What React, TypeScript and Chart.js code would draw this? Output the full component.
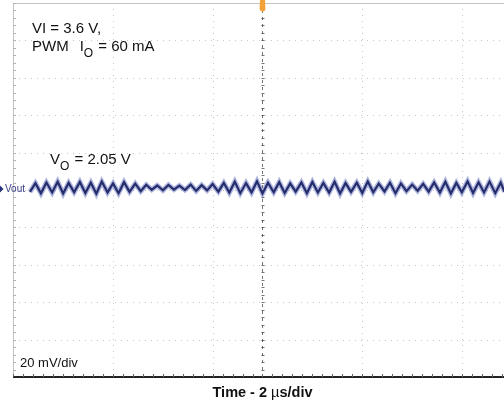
import React, { useEffect, useRef } from "react";
import { Chart, registerables } from "chart.js";

Chart.register(...registerables);

// time in µs (2 µs/div), voltage deviation in mV (20 mV/div)
const timeUs: number[] = [
  0.68, 0.90, 1.12, 1.34, 1.57, 1.79, 2.01, 2.23, 2.45, 2.68,
  2.90, 3.12, 3.34, 3.56, 3.79, 4.01, 4.23, 4.45, 4.67, 4.90,
  5.12, 5.34, 5.56, 5.78, 6.01, 6.23, 6.45, 6.67, 6.89, 7.12,
  7.34, 7.56, 7.78, 8.00, 8.23, 8.45, 8.67, 8.89, 9.11, 9.34,
  9.56, 9.78, 10.00, 10.22, 10.45, 10.67, 10.89, 11.11, 11.33, 11.56,
  11.78, 12.00, 12.22, 12.44, 12.67, 12.89, 13.11, 13.33, 13.55, 13.78,
  14.00, 14.22, 14.44, 14.66, 14.89, 15.11, 15.33, 15.55, 15.77, 16.00,
  16.22, 16.44, 16.66, 16.88, 17.11, 17.33, 17.55, 17.77, 17.99, 18.22,
  18.44, 18.66, 18.88, 19.10, 19.33, 19.55, 19.70,
];

const voutMv: number[] = [
  -1.0, 3.6, -1.8, 4.0, -1.3, 4.4, -1.9, 3.8, -1.2, 4.3,
  -1.6, 3.9, -2.0, 4.5, -1.3, 3.5, -1.7, 4.2, -1.0, 3.4,
  -0.6, 2.8, 0.1, 2.4, -0.2, 2.7, 0.2, 2.3, 0.0, 2.9,
  -0.5, 2.6, -0.2, 3.2, -0.9, 3.8, -1.4, 4.4, -1.7, 3.7,
  -1.3, 4.6, -1.9, 3.9, -1.2, 4.2, -1.6, 3.5, -0.9, 4.0,
  -1.7, 4.3, -1.3, 3.8, -1.4, 4.4, -1.9, 3.7, -1.0, 3.9,
  -1.6, 4.5, -1.2, 3.4, -0.8, 3.9, -1.7, 3.5, -0.6, 2.9,
  -0.4, 3.3, -0.9, 4.0, -1.4, 4.4, -1.9, 3.8, -1.2, 4.6,
  -1.6, 4.1, -1.3, 4.5, -1.7, 3.9, -1.0,
];

const xMin = 0;
const xMax = 19.68;
const yMin = -100;
const yMax = 100;
const xGridUs: number[] = [4, 8, 14, 18];
const xCenterUs = 10;
const yGridMv: number[] = [-80, -60, -40, -20, 0, 20, 40, 60, 80];

const FONT = "'Liberation Sans', Arial, sans-serif";

const scopePlugin = {
  id: "scope",
  beforeDatasetsDraw(chart: any) {
    const { ctx, chartArea: a, scales } = chart;
    const xs = scales.x;
    const ys = scales.y;
    ctx.save();
    // dotted grid
    ctx.strokeStyle = "rgba(130,130,130,0.45)";
    ctx.lineWidth = 1;
    ctx.setLineDash([1, 5]);
    for (const v of xGridUs) {
      const px = Math.round(xs.getPixelForValue(v)) + 0.5;
      ctx.beginPath();
      ctx.moveTo(px, a.top);
      ctx.lineTo(px, a.bottom);
      ctx.stroke();
    }
    for (const v of yGridMv) {
      const py = Math.round(ys.getPixelForValue(v)) + 0.5;
      ctx.beginPath();
      ctx.moveTo(a.left, py);
      ctx.lineTo(a.right, py);
      ctx.stroke();
    }
    ctx.setLineDash([]);
    // top and left borders
    ctx.strokeStyle = "#c4c4c4";
    ctx.beginPath();
    ctx.moveTo(a.left, a.top + 0.5);
    ctx.lineTo(a.right, a.top + 0.5);
    ctx.moveTo(a.left + 0.5, a.top);
    ctx.lineTo(a.left + 0.5, a.bottom);
    ctx.stroke();
    // left minor ticks
    ctx.strokeStyle = "#b0b0b0";
    const divPx = (ys.getPixelForValue(yMin) - ys.getPixelForValue(yMin + 20));
    for (let y = a.top; y <= a.bottom; y += divPx / 5) {
      const py = Math.round(y) + 0.5;
      ctx.beginPath();
      ctx.moveTo(a.left, py);
      ctx.lineTo(a.left + 3, py);
      ctx.stroke();
    }
    // center vertical axis with ticks
    const cx = Math.round(xs.getPixelForValue(xCenterUs)) + 0.5;
    ctx.strokeStyle = "rgba(70,70,70,0.75)";
    ctx.setLineDash([3, 4]);
    ctx.beginPath();
    ctx.moveTo(cx, a.top);
    ctx.lineTo(cx, a.bottom);
    ctx.stroke();
    ctx.setLineDash([]);
    ctx.strokeStyle = "rgba(60,60,60,0.7)";
    for (let y = a.top; y <= a.bottom; y += divPx / 5) {
      const py = Math.round(y) + 0.5;
      ctx.beginPath();
      ctx.moveTo(cx - 1, py);
      ctx.lineTo(cx + 2, py);
      ctx.stroke();
    }
    // bottom border
    ctx.strokeStyle = "#222";
    ctx.lineWidth = 2;
    ctx.beginPath();
    ctx.moveTo(a.left, a.bottom);
    ctx.lineTo(a.right, a.bottom);
    ctx.stroke();
    ctx.lineWidth = 1;
    const xDivPx = xs.getPixelForValue(2) - xs.getPixelForValue(0);
    ctx.strokeStyle = "#666";
    for (let x = a.left; x <= a.right; x += xDivPx / 5) {
      const px = Math.round(x) + 0.5;
      ctx.beginPath();
      ctx.moveTo(px, a.bottom - 3);
      ctx.lineTo(px, a.bottom);
      ctx.stroke();
    }
    ctx.restore();
  },
  afterDatasetsDraw(chart: any) {
    const { ctx, scales } = chart;
    const xs = scales.x;
    const ys = scales.y;
    ctx.save();
    // trigger marker
    const cx = xs.getPixelForValue(xCenterUs);
    ctx.fillStyle = "#f2a23a";
    ctx.beginPath();
    ctx.moveTo(cx - 2.5, 0);
    ctx.lineTo(cx + 2.5, 0);
    ctx.lineTo(cx + 3, 9);
    ctx.quadraticCurveTo(cx, 15, cx - 3, 9);
    ctx.closePath();
    ctx.fill();

    // Vout channel label
    const y0 = ys.getPixelForValue(0) - 1;
    ctx.fillStyle = "#2a3080";
    ctx.beginPath();
    ctx.moveTo(0, y0 - 3.5);
    ctx.lineTo(3.5, y0);
    ctx.lineTo(0, y0 + 3.5);
    ctx.closePath();
    ctx.fill();
    ctx.font = `10px ${FONT}`;
    ctx.textBaseline = "middle";
    ctx.fillStyle = "#3a4088";
    ctx.fillText("Vout", 5, y0);

    // annotations
    ctx.fillStyle = "#111";
    ctx.textBaseline = "alphabetic";
    const big = `15px ${FONT}`;
    const sub = `12px ${FONT}`;
    ctx.font = big;
    ctx.fillText("VI = 3.6 V,", 32, 33);
    let x = 32;
    ctx.fillText("PWM", x, 51);
    x += ctx.measureText("PWM").width + 11;
    ctx.fillText("I", x, 51);
    x += ctx.measureText("I").width;
    ctx.font = sub;
    ctx.fillText("O", x, 57);
    x += ctx.measureText("O").width + 1;
    ctx.font = big;
    ctx.fillText(" = 60 mA", x, 51);

    x = 50;
    ctx.fillText("V", x, 164);
    x += ctx.measureText("V").width;
    ctx.font = sub;
    ctx.fillText("O", x, 170);
    x += ctx.measureText("O").width + 1;
    ctx.font = big;
    ctx.fillText(" = 2.05 V", x, 164);

    ctx.font = `13px ${FONT}`;
    ctx.fillText("20 mV/div", 20, 367);

    // x-axis title
    const bold = `bold 14.5px ${FONT}`;
    const norm = `14.5px ${FONT}`;
    ctx.font = bold;
    const p1 = "Time - 2 ";
    const p2 = "\u00b5";
    const p3 = "s/div";
    const w1 = ctx.measureText(p1).width;
    ctx.font = norm;
    const w2 = ctx.measureText(p2).width;
    ctx.font = bold;
    const w3 = ctx.measureText(p3).width;
    const total = w1 + w2 + w3;
    let tx = cx - total / 2;
    const ty = 397;
    ctx.fillText(p1, tx, ty);
    tx += w1;
    ctx.font = norm;
    ctx.fillText(p2, tx, ty);
    tx += w2;
    ctx.font = bold;
    ctx.fillText(p3, tx, ty);
    ctx.restore();
  },
};

export default function App() {
  const ref = useRef<HTMLCanvasElement | null>(null);
  useEffect(() => {
    document.body.style.margin = "0";
    const canvas = ref.current;
    if (!canvas) return;
    const points = timeUs.map((t, i) => ({ x: t, y: voutMv[i] }));
    const chart = new Chart(canvas, {
      type: "line",
      data: {
        datasets: [
          {
            label: "Vout core",
            data: points,
            borderColor: "#262d6c",
            borderWidth: 2.2,
            pointRadius: 0,
            tension: 0,
            fill: false,
            order: 0,
          },
          {
            label: "Vout halo",
            data: points,
            borderColor: "rgba(95,110,190,0.5)",
            borderWidth: 5,
            pointRadius: 0,
            tension: 0,
            fill: false,
            order: 1,
          },
        ],
      },
      options: {
        responsive: false,
        animation: false,
        layout: { padding: { left: 13, top: 3, right: 0, bottom: 29 } },
        plugins: { legend: { display: false }, tooltip: { enabled: false } },
        scales: {
          x: { type: "linear", min: xMin, max: xMax, display: false },
          y: { type: "linear", min: yMin, max: yMax, display: false },
        },
      },
      plugins: [scopePlugin],
    });
    return () => chart.destroy();
  }, []);
  return (
    <div style={{ position: "absolute", left: 0, top: 0, width: 504, height: 406, background: "#fff" }}>
      <canvas ref={ref} width={504} height={406} style={{ display: "block" }} />
    </div>
  );
}
